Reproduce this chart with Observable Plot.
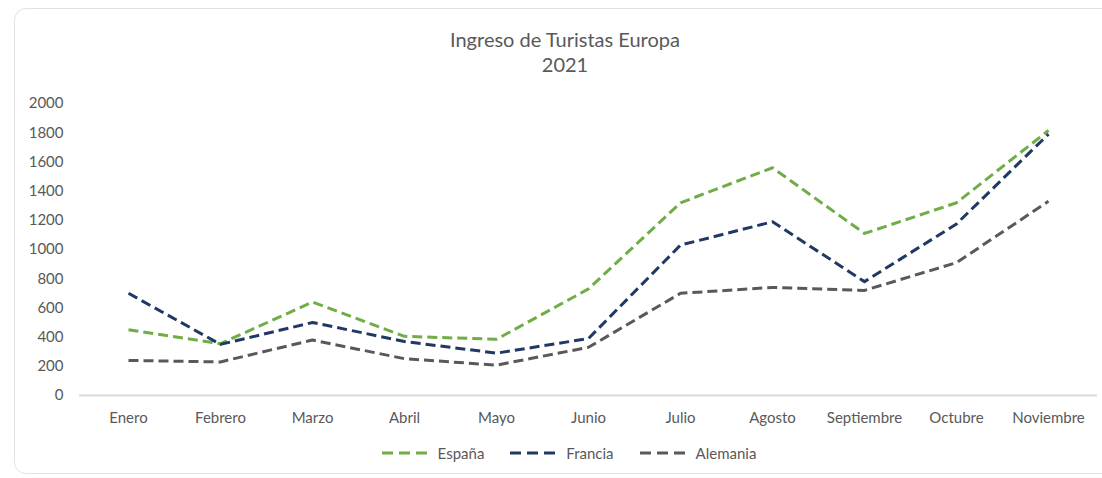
<!DOCTYPE html>
<html>
<head>
<meta charset="utf-8">
<script src="https://cdn.jsdelivr.net/npm/d3@7"></script>
<script src="https://cdn.jsdelivr.net/npm/@observablehq/plot@0.6"></script>
<style>
  html, body { margin: 0; padding: 0; background: #fff; }
  body { width: 1102px; height: 478px; position: relative; overflow: hidden; font-family: Lato, "Noto Sans", sans-serif; color: #595959; }
  #card { position: absolute; left: 14px; top: 8px; width: 1110px; height: 466px; border: 1.5px solid #e2e2e2; border-radius: 12px; box-sizing: border-box; }
  #title { position: absolute; left: 365px; width: 400px; top: 27px; text-align: center; font-size: 20px; line-height: 25px; color: #595959; }
  #chart { position: absolute; left: 0; top: 90px; }
  #legend { position: absolute; left: 369px; width: 400px; top: 444px; display: flex; justify-content: center; align-items: center; font-size: 15px; color: #595959; }
  .item { display: flex; align-items: center; margin: 0 13px; }
  .item svg { margin-right: 10px; }
</style>
</head>
<body>
<div id="card"></div>
<div id="title">Ingreso de Turistas Europa<br>2021</div>
<div id="chart"></div>
<div id="legend"></div>
<script>
const months = ["Enero","Febrero","Marzo","Abril","Mayo","Junio","Julio","Agosto","Septiembre","Octubre","Noviembre"];
const series = ["España","Francia","Alemania"];
const colors = ["#70ad47","#203864","#595959"];
const espana   = [450, 355, 640, 405, 385, 730, 1320, 1560, 1110, 1320, 1815];
const francia  = [700, 350, 500, 370, 290, 390, 1030, 1190, 780, 1175, 1790];
const alemania = [240, 230, 380, 252, 208, 330, 700, 740, 720, 910, 1330];
const yTicks = [0,200,400,600,800,1000,1200,1400,1600,1800,2000];

const values = [espana, francia, alemania];
const rows = [];
series.forEach((s, i) => months.forEach((m, j) => rows.push({serie: s, mes: m, valor: values[i][j]})));

const chart = Plot.plot({
  width: 1102,
  height: 345,
  marginLeft: 79,
  marginRight: 5,
  marginTop: 13,
  marginBottom: 40,
  style: {fontFamily: "Lato, 'Noto Sans', sans-serif", fontSize: "15px", color: "#595959", background: "transparent"},
  x: {type: "point", domain: months, padding: 0.5, label: null},
  y: {domain: [0, 2000], label: null},
  color: {domain: series, range: colors},
  marks: [
    Plot.ruleY([0], {stroke: "#d9d9d9", strokeWidth: 2}),
    Plot.axisY({ticks: yTicks, tickFormat: d => String(d), tickSize: 0, tickPadding: 16, label: null, fill: "#595959"}),
    Plot.axisX({tickSize: 0, tickPadding: 17, label: null, fill: "#595959"}),
    Plot.line(rows, {x: "mes", y: "valor", z: "serie", stroke: "serie", strokeWidth: 3, strokeDasharray: "10,5", strokeLinecap: "butt", strokeLinejoin: "round"})
  ]
});
document.getElementById("chart").appendChild(chart);

const legend = document.getElementById("legend");
series.forEach((s, i) => {
  const item = document.createElement("div");
  item.className = "item";
  item.innerHTML = `<svg width="46" height="8"><line x1="0" y1="4" x2="46" y2="4" stroke="${colors[i]}" stroke-width="3" stroke-dasharray="11,6"></line></svg><span>${s}</span>`;
  legend.appendChild(item);
});
</script>
</body>
</html>
